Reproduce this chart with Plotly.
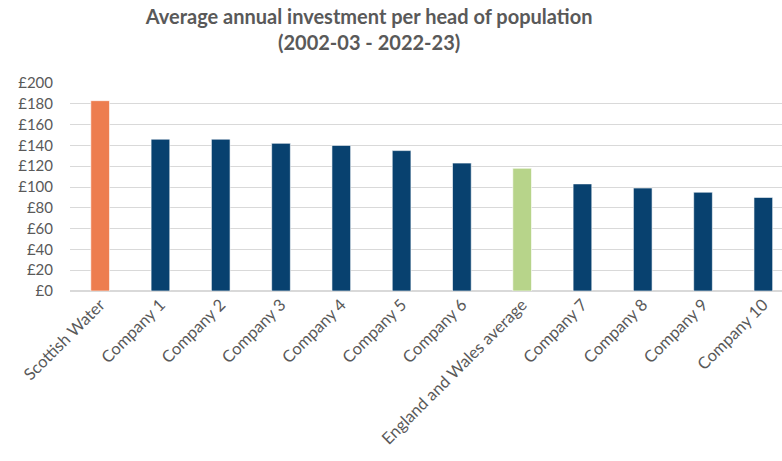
import plotly.graph_objects as go

categories = ["Scottish Water", "Company 1", "Company 2", "Company 3", "Company 4",
              "Company 5", "Company 6", "England and Wales average", "Company 7",
              "Company 8", "Company 9", "Company 10"]
values = [183, 146, 146, 142, 140, 135, 123, 118, 103, 99, 95, 90]
bar_colors = ["#ED7D4F"] + ["#08416F"] * 6 + ["#B7D48A"] + ["#08416F"] * 4
tick_vals = [0, 20, 40, 60, 80, 100, 120, 140, 160, 180, 200]
tick_text = ["£" + str(v) for v in tick_vals]

fig = go.Figure(go.Bar(
    x=categories, y=values, marker=dict(color=bar_colors, line=dict(color="rgba(255,255,255,0.6)", width=1)),
    width=0.31,
))

fig.update_layout(
    width=782, height=461,
    margin=dict(l=70, r=0, t=83, b=170),
    paper_bgcolor="white", plot_bgcolor="white",
    font=dict(family="Lato, Carlito, sans-serif", color="#595959", size=14),
    title=dict(text="<b>Average annual investment per head of population<br>(2002-03 - 2022-23)</b>",
               x=0.472, xanchor="center", y=0.947, yanchor="top",
               font=dict(size=20, color="#595959")),
    showlegend=False,
    bargap=0.69,
)
fig.update_xaxes(range=[-0.5, 11.31], tickangle=-45, showgrid=False, showline=False,
                 ticks="", tickfont=dict(size=16.5, color="#595959"))
fig.update_yaxes(range=[0, 200], tickvals=tick_vals, ticktext=tick_text,
                 showgrid=True, gridcolor="#D9D9D9", gridwidth=1, zeroline=True,
                 zerolinecolor="#D9D9D9", ticks="", ticklabelstandoff=16,
                 tickfont=dict(size=15, color="#595959"))

fig.write_html("out.html")
